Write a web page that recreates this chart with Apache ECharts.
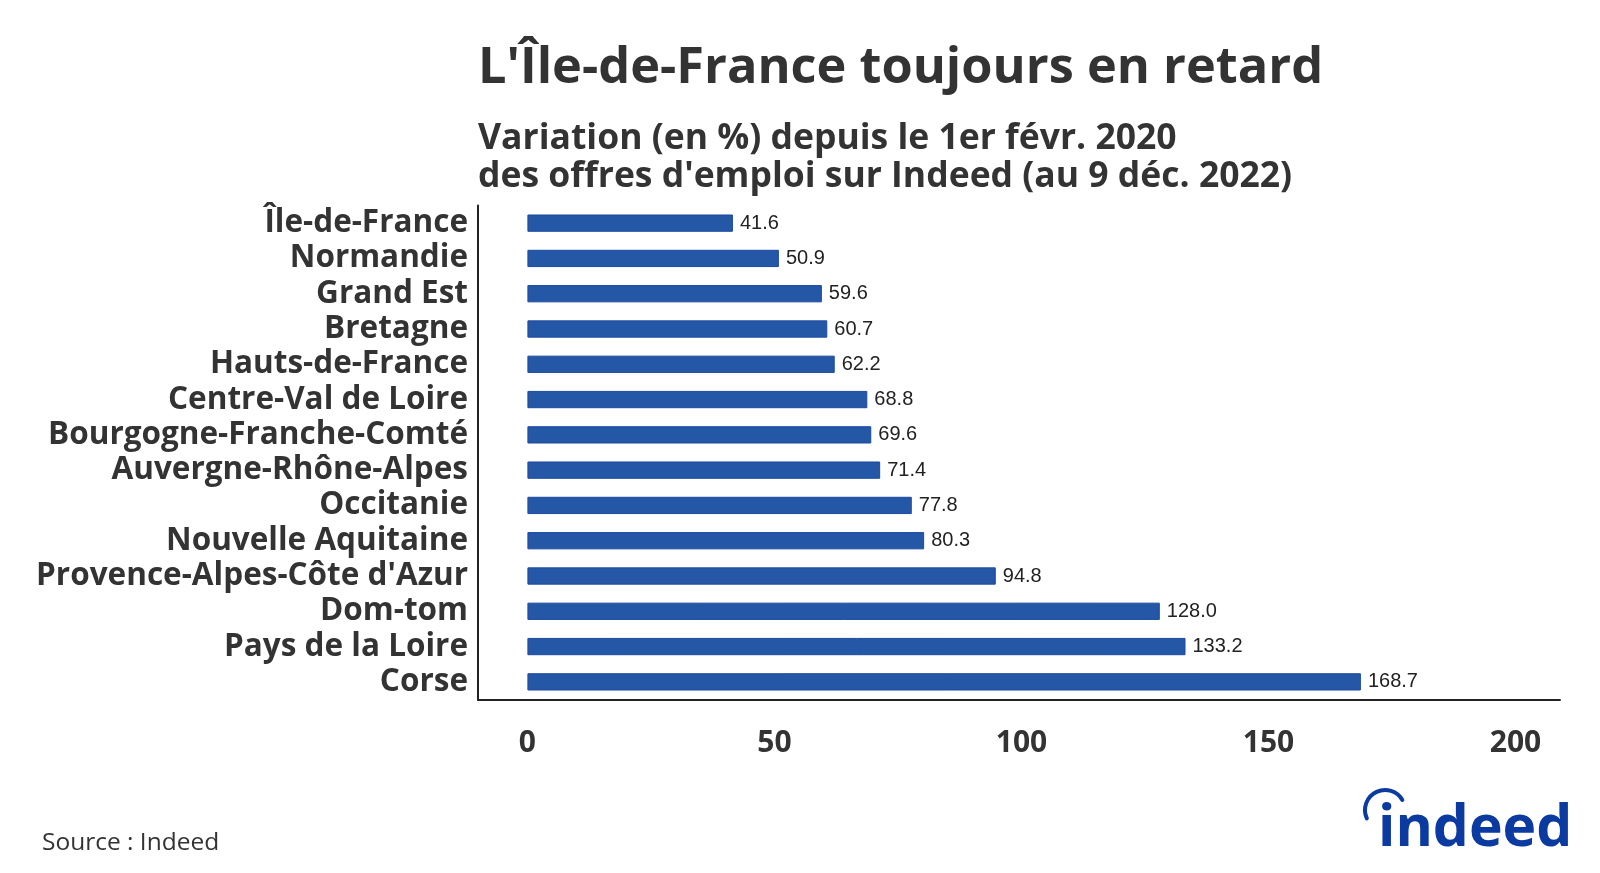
<!DOCTYPE html>
<html><head><meta charset="utf-8">
<script src="https://cdn.jsdelivr.net/npm/echarts@6/dist/echarts.min.js"></script>
<style>html,body{margin:0;padding:0;background:#fff}#c{width:1600px;height:873px}</style>
</head><body><div id="c"></div>
<script>
const regions = ["Île-de-France","Normandie","Grand Est","Bretagne","Hauts-de-France","Centre-Val de Loire","Bourgogne-Franche-Comté","Auvergne-Rhône-Alpes","Occitanie","Nouvelle Aquitaine","Provence-Alpes-Côte d'Azur","Dom-tom","Pays de la Loire","Corse"];
const values = [41.6,50.9,59.6,60.7,62.2,68.8,69.6,71.4,77.8,80.3,94.8,128.0,133.2,168.7];
const xTicks = [0,50,100,150,200];

const chart = echarts.init(document.getElementById('c'));
chart.setOption({
  animation:false,
  backgroundColor:'#fff',
  title:[{
    text:"L'Île-de-France toujours en retard",
    left:473, top:38,
    textStyle:{fontFamily:'Open Sans',fontWeight:'bold',fontSize:50.5,color:'#333'}
  },{
    text:"Variation (en %) depuis le 1er févr. 2020\ndes offres d'emploi sur Indeed (au 9 déc. 2022)",
    left:473, top:115,
    textStyle:{fontFamily:'Open Sans',fontWeight:'bold',fontSize:35.5,color:'#333',lineHeight:38}
  }],
  grid:{left:478,right:40,top:205.5,bottom:173.5,containLabel:false},
  xAxis:{
    type:'value',min:-10,max:209,
    axisLine:{show:true,onZero:false,lineStyle:{color:'#222',width:2}},
    axisTick:{show:false},splitLine:{show:false},
    axisLabel:{show:true,customValues:xTicks,margin:29,fontFamily:'Open Sans',fontWeight:'bold',fontSize:30,color:'#333'}
  },
  yAxis:{
    type:'category',data:regions,inverse:true,
    axisLine:{show:true,onZero:false,lineStyle:{color:'#222',width:2}},
    axisTick:{show:false},
    axisLabel:{interval:0,margin:10,fontFamily:'Open Sans',fontWeight:'bold',fontSize:31.5,color:'#333'}
  },
  series:[{
    type:'bar',data:values,barWidth:'49%',
    itemStyle:{color:'#2557a7',borderColor:'#1c4aa0',borderWidth:1},
    label:{show:true,position:'right',distance:7,formatter:p=>p.value.toFixed(1),fontFamily:'Liberation Sans',fontSize:20,color:'#222'}
  }],
  graphic:[
    {type:'text',left:42,top:831,style:{text:'Source : Indeed',font:'24.5px "Open Sans"',fill:'#333'}},
    {type:'text',left:1378,top:801,style:{text:'indeed',font:'bold 57px "Open Sans"',fill:'#0b3aa1'}},
    {type:'arc',shape:{cx:1385,cy:810,r:20,startAngle:2.71,endAngle:5.76},style:{stroke:'#0b3aa1',lineWidth:4,fill:null,lineCap:'round'}}
  ]
});
</script></body></html>
